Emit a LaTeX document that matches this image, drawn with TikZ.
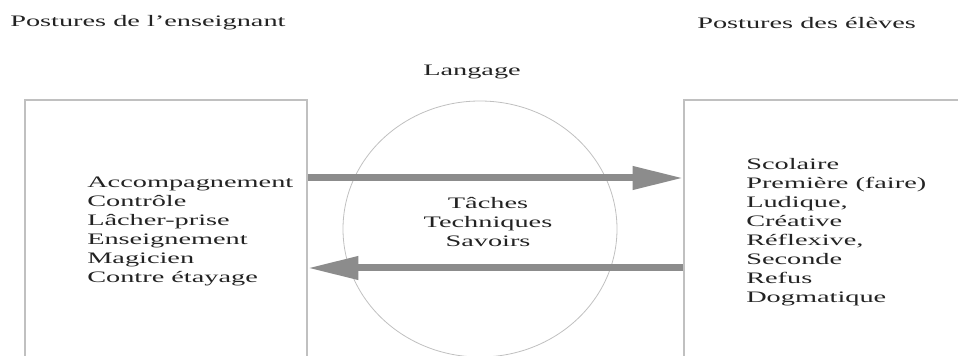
\documentclass[tikz,border=0pt]{standalone}
\usepackage{fontspec}
\setmainfont{Liberation Serif}[FakeStretch=1.77]
\usetikzlibrary{shapes,calc,positioning,arrows.meta}

\definecolor{texte}{RGB}{35,35,35}
\definecolor{cadre}{RGB}{192,192,192}
\definecolor{fleche}{RGB}{140,140,140}

\tikzset{
  titre/.style={anchor=base west, inner sep=0pt, text=texte},
  liste/.style={anchor=base west, inner sep=0pt, align=left, text=texte},
  boite/.style={draw=cadre, line width=0.9pt, rectangle, inner sep=0pt},
  flechegrise/.style={draw=fleche, line width=5.25pt, -{Triangle[length=38pt,width=16.5pt]}}
}

\begin{document}
\begin{tikzpicture}[x=0.75pt, y=-0.75pt, font=\fontsize{12pt}{14.3pt}\selectfont]
\clip (0,0) rectangle (958,356);

\node[titre] (tens) at (10,27) {Postures de l’enseignant};
\node[titre] (tel) at (697,29) {Postures des élèves};
\node[titre, anchor=base] (lang) at (472,76) {Langage};

\node[boite, minimum width=211.5pt, minimum height=210pt] (ens) at (166,240) {};
\node[boite, minimum width=225pt, minimum height=210pt] (el) at (834,240) {};
\node[draw=cadre, line width=0.6pt, ellipse, minimum width=205.5pt, minimum height=192pt, inner sep=0pt] (sav) at (480,229) {};

% listes : ancrees sur la ligne de base de la derniere ligne
\node[liste] (lens) at (87,283) {Accompagnement\\Contrôle\\Lâcher-prise\\Enseignement\\Magicien\\Contre étayage};
\node[liste] (lel) at (746,303) {Scolaire\\Première (faire)\\Ludique,\\Créative\\Réflexive,\\Seconde\\Refus\\Dogmatique};
\node[liste, anchor=base, align=center] (lsav) at (488,247) {Tâches\\Techniques\\Savoirs};

\coordinate (haut) at (480,178);
\coordinate (bas) at (480,268);

\draw[flechegrise] (ens.east |- haut) -- (el.west |- haut);
\draw[flechegrise] (el.west |- bas) -- (ens.east |- bas);

\end{tikzpicture}
\end{document}
